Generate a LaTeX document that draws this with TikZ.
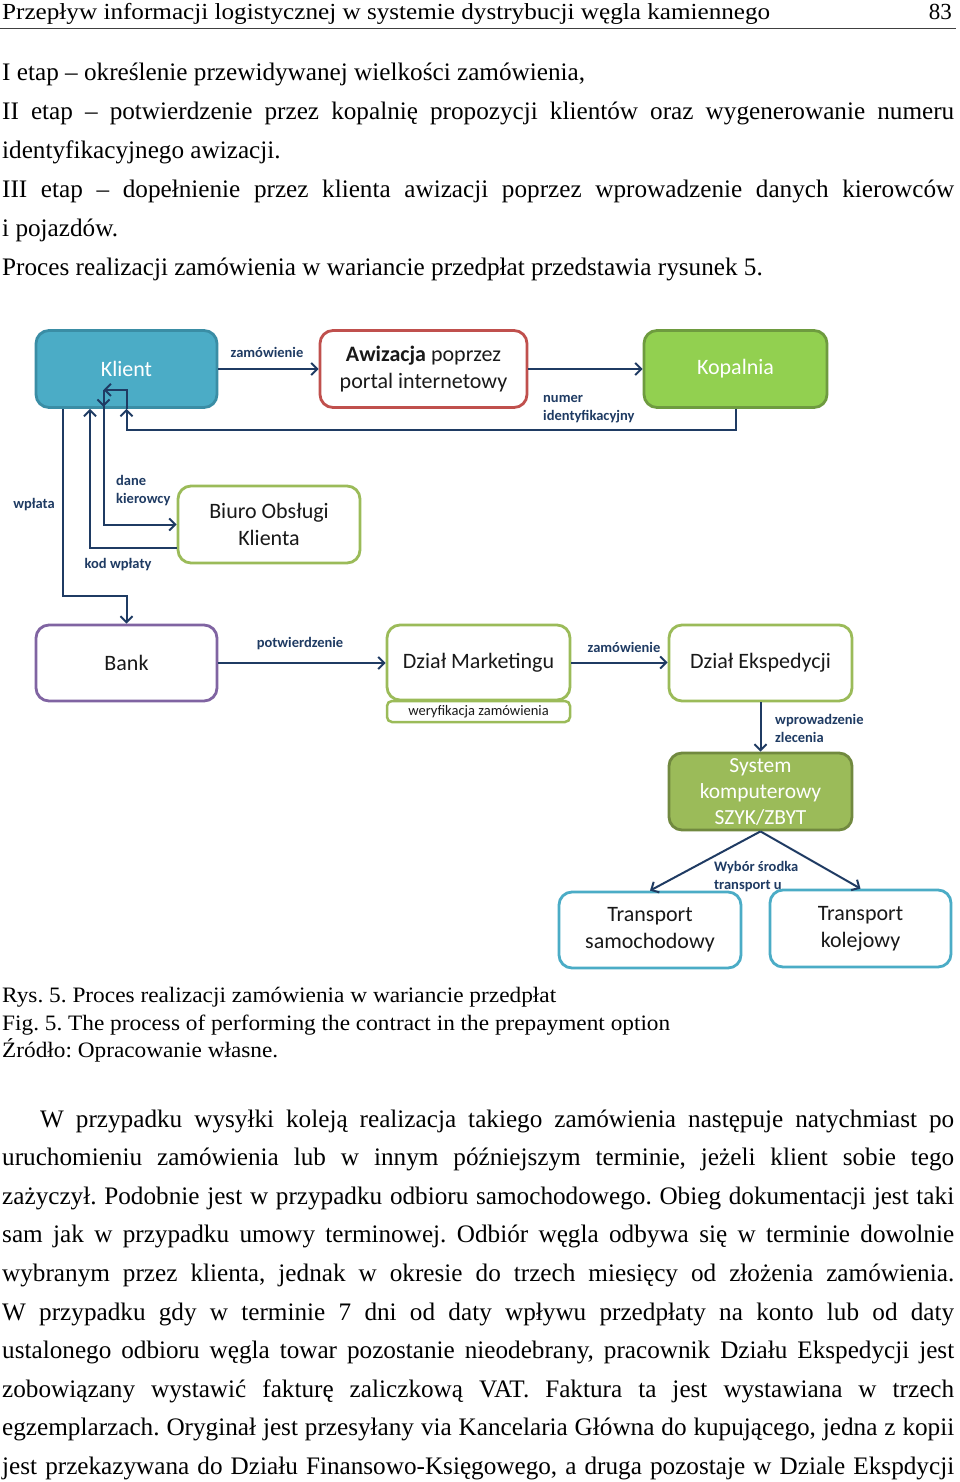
\documentclass[tikz,border=0pt]{standalone}
\usepackage{fontspec}
\usepackage{graphicx}
\setmainfont{Liberation Serif}
\newfontfamily\calibri{Carlito}
\usetikzlibrary{arrows.meta,calc,positioning}
\frenchspacing

\definecolor{granat}{HTML}{1F3B63}
\definecolor{turkus}{HTML}{4BACC6}
\definecolor{turkusciemny}{HTML}{3A8DA5}
\definecolor{zielen}{HTML}{92D050}
\definecolor{zielenciemna}{HTML}{6E9B3F}
\definecolor{oliwka}{HTML}{9BBB59}
\definecolor{oliwkaciemna}{HTML}{71893F}
\definecolor{czerwien}{HTML}{C0504D}
\definecolor{fiolet}{HTML}{8064A2}

%Zeile auf eine vorgegebene Breite bringen (nur waagrecht gestreckt)
\newsavebox\zeilenbox
\newcommand\dopasuj[2]{\sbox\zeilenbox{#2}\pgfmathsetmacro\skala{#1/\the\wd\zeilenbox}\scalebox{\skala}[1]{\usebox\zeilenbox}}

\tikzset{
  zeile/.style={anchor=base west, inner sep=0pt, font=\fontsize{25.2}{30}\selectfont},
  podpis/.style={anchor=base west, inner sep=0pt, font=\fontsize{22}{27}\selectfont},
  kasten/.style={draw, rounded corners=13pt, line width=2.8pt, minimum width=181pt, minimum height=77pt, inner sep=2pt, align=center, text=black!90, font=\calibri\fontsize{22}{27}\selectfont},
  fluss/.style={draw=granat, line width=2pt, -{Straight Barb[length=6pt,width=12pt,line width=2pt]}},
  opis/.style={inner sep=0pt, align=left, text=granat, font=\calibri\bfseries\fontsize{14.5}{18}\selectfont},
}

\begin{document}
\begin{tikzpicture}[x=1pt,y=-1pt]
\fill[white] (0,0) rectangle (960,1482);
\useasboundingbox (0,0) rectangle (960,1482);
%Kopfzeile der Seite
\node[zeile,font=\fontsize{23}{28}\selectfont] (kopf) at (2,20) {\dopasuj{768}{Przepływ informacji logistycznej w systemie dystrybucji węgla kamiennego}};
\node[zeile,anchor=base east,font=\fontsize{23}{28}\selectfont] (seite) at (952,20) {83};
\draw[line width=1.2pt,black!75] (0,28.5) -- (956,28.5);
%Text oberhalb der Abbildung
\node[zeile] (etap1) at (2,81) {I etap – określenie przewidywanej wielkości zamówienia,};
\node[zeile] (etap2) at (2,120) {\makebox[952pt][s]{II etap – potwierdzenie przez kopalnię propozycji klientów oraz wygenerowanie numeru}};
\node[zeile] (etap2b) at (2,158.5) {identyfikacyjnego awizacji.};
\node[zeile] (etap3) at (2,197) {\makebox[952pt][s]{III etap – dopełnienie przez klienta awizacji poprzez wprowadzenie danych kierowców}};
\node[zeile] (etap3b) at (2,236) {i pojazdów.};
\node[zeile] (zapowiedz) at (2,275) {Proces realizacji zamówienia w wariancie przedpłat przedstawia rysunek 5.};
%Kaesten
\node[kasten, fill=turkus, draw=turkusciemny, text=white] (klient) at (126.5,369) {Klient};
\node[kasten, draw=czerwien, minimum width=207pt] (awizacja) at (423.5,369) {\textbf{Awizacja} poprzez\\portal internetowy};
\node[kasten, fill=zielen, draw=zielenciemna, text=white, minimum width=183pt] (kopalnia) at (735.5,369) {Kopalnia};
\node[kasten, draw=oliwka, minimum width=182pt] (biuro) at (269,524.5) {Biuro Obsługi\\Klienta};
\node[kasten, draw=fiolet, minimum height=76pt] (bank) at (126.5,663) {Bank};
\node[kasten, draw=oliwka, minimum width=183pt, minimum height=75pt] (marketing) at (478.5,662.5) {Dział Marketingu};
\node[kasten, draw=oliwka, minimum width=183pt, minimum height=21pt, rounded corners=5pt, line width=2.5pt, inner sep=0pt, font=\calibri\fontsize{14.5}{17}\selectfont] (weryfikacja) at (478.5,711.5) {weryfikacja zamówienia};
\node[kasten, draw=oliwka, minimum width=183pt, minimum height=76pt] (ekspedycja) at (760.5,663) {Dział Ekspedycji};
\node[kasten, fill=oliwka, draw=oliwkaciemna, text=white, minimum width=183pt, inner sep=0pt, font=\calibri\fontsize{21.5}{26}\selectfont] (system) at (760.5,791.5) {System\\komputerowy\\SZYK/ZBYT};
\node[kasten, draw=turkus, minimum width=182pt, minimum height=76pt] (samochod) at (650,930) {Transport\\samochodowy};
\node[kasten, draw=turkus] (kolej) at (860.5,928.5) {Transport\\kolejowy};
%Pfeile
\draw[fluss] (klient.east) -- (awizacja.west);
\draw[fluss] (awizacja.east) -- (kopalnia.west);
\draw[fluss] (kopalnia.south) -- ++(0,21) -| (klient.south);
\coordinate (dane) at ($(klient.south)+(-23,-19)$);
\draw[fluss] (klient.south) |- (dane);
\draw[fluss] (dane) -- ++(0,17);
\draw[fluss] (dane) |- (biuro.west);
\draw[fluss] ([yshift=-23.5pt]biuro.west) -| ([xshift=-36.5pt]klient.south);
\draw[fluss] ([xshift=-63.5pt]klient.south) -- ++(0,187) -| (bank.north);
\draw[fluss] (bank.east) -- (bank.east -| marketing.west);
\draw[fluss] (marketing.east) -- (marketing.east -| ekspedycja.west);
\draw[fluss] (ekspedycja) -- (system);
\draw[fluss] (system.south) -- (samochod.north);
\draw[fluss] (system.south) -- (kolej.north);
%Beschriftungen der Pfeile
\node[opis] (zam1) at (267,352) {zamówienie};
\node[opis, anchor=west] (numer) at (543,409) {numer\\identyfikacyjny};
\node[opis] (wplata) at (34,505) {wpłata};
\node[opis, anchor=west] (kierowcy) at (116,491) {dane\\kierowcy};
\node[opis] (kod) at (118,565) {kod wpłaty};
\node[opis] (potw) at (300,644) {potwierdzenie};
\node[opis] (zam2) at (624,647) {zamówienie};
\node[opis, anchor=west] (zlecenie) at (775,728) {wprowadzenie\\zlecenia};
\node[opis, anchor=west] (wybor) at (714,877) {Wybór środka\\transport u};
%Bildunterschrift
\node[podpis] (rys) at (2,1002) {\dopasuj{554}{Rys. 5. Proces realizacji zamówienia w wariancie przedpłat}};
\node[podpis] (fig) at (2,1030) {\dopasuj{668}{Fig. 5. The process of performing the contract in the prepayment option}};
\node[podpis] (zrodlo) at (2,1057) {\dopasuj{276}{Źródło: Opracowanie własne.}};
%Absatz unterhalb der Abbildung
\foreach \tekst [count=\i from 0] in {{\hspace*{38pt}W przypadku wysyłki koleją realizacja takiego zamówienia następuje natychmiast po},
  {uruchomieniu zamówienia lub w innym późniejszym terminie, jeżeli klient sobie tego},
  {zażyczył. Podobnie jest w przypadku odbioru samochodowego. Obieg dokumentacji jest taki},
  {sam jak w przypadku umowy terminowej. Odbiór węgla odbywa się w terminie dowolnie},
  {wybranym przez klienta, jednak w okresie do trzech miesięcy od złożenia zamówienia.},
  {W przypadku gdy w terminie 7 dni od daty wpływu przedpłaty na konto lub od daty},
  {ustalonego odbioru węgla towar pozostanie nieodebrany, pracownik Działu Ekspedycji jest},
  {zobowiązany wystawić fakturę zaliczkową VAT. Faktura ta jest wystawiana w trzech},
  {egzemplarzach. Oryginał jest przesyłany via Kancelaria Główna do kupującego, jedna z kopii},
  {jest przekazywana do Działu Finansowo-Księgowego, a druga pozostaje w Dziale Ekspdycji}}
  \node[zeile] (akapit\i) at (2,{1127+38.6*\i}) {\makebox[952pt][s]{\tekst}};
\end{tikzpicture}
\end{document}
